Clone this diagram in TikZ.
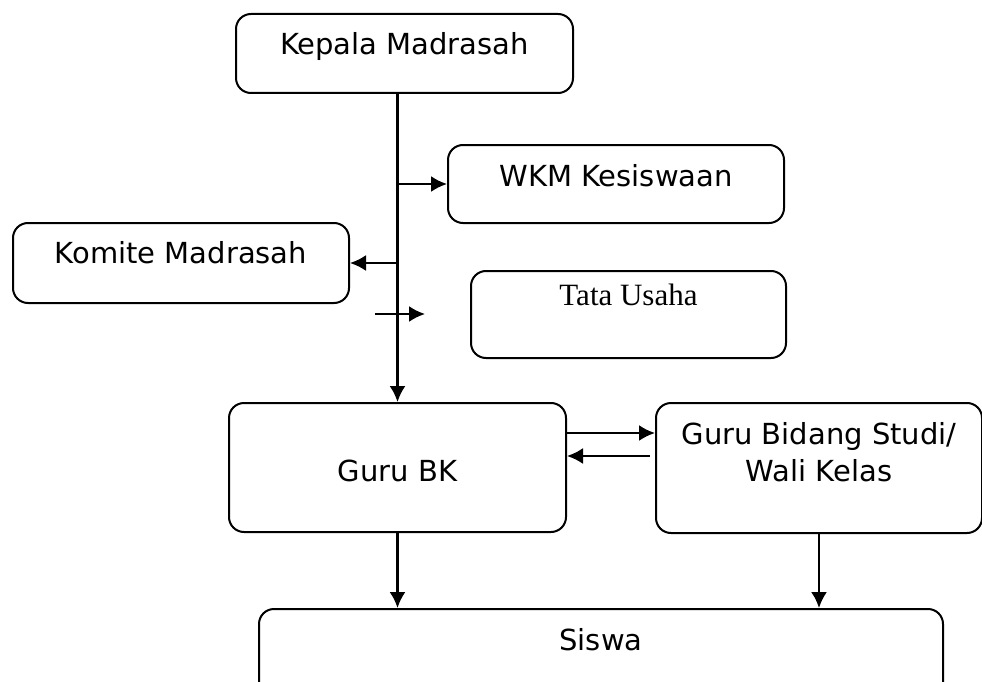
\documentclass[tikz,border=0pt]{standalone}
\usepackage{fontspec}
\setmainfont{DejaVu Sans}
\newfontfamily\tatafont{Liberation Serif}
\usepackage{tikz}
\usetikzlibrary{arrows.meta}
\usetikzlibrary{positioning}

\begin{document}
\begin{tikzpicture} [
            x = 1pt, y = -1pt,
            % ----- Node definitions ----- %
            orgnode/.style = {
                draw,
                rectangle,
                rounded corners = 15pt,
                line width = 2pt,
                inner sep = 0pt,
                anchor = north west,
                align = center,
                font = \fontsize{29}{37}\selectfont
            },
            orgarrow/.style = {
                line width = 2.2pt,
                -{Latex[length=16pt, width=16pt]}
            },
    ]
        \useasboundingbox (0,0) rectangle (982,682);
        \clip (0,0) rectangle (982,682);

            % ----- Node constructions ----- %
        \node [orgnode, minimum width=337pt, text height=41pt, text depth=38pt]
            (kepala) at (235,13) {Kepala Madrasah};
        \node [orgnode, minimum width=336pt, text height=41pt, text depth=37pt]
            (wkm) at (447,144) {WKM Kesiswaan};
        \node [orgnode, minimum width=336pt, text height=40pt, text depth=40pt]
            (komite) at (12,222) {Komite Madrasah};
        \node [orgnode, minimum width=315pt, text height=34pt, text depth=53pt,
               font=\tatafont\fontsize{31}{37}\selectfont]
            (tatausaha) at (470,270) {Tata Usaha};
        \node [orgnode, minimum width=337pt, text height=78pt, text depth=51pt]
            (gurubk) at (228,402) {Guru BK};
        \node [orgnode, minimum width=326pt, text height=78pt, text depth=52pt]
            (gurubidang) at (655,402) {Guru Bidang Studi/\\Wali Kelas};
        \node [orgnode, minimum width=684pt, text height=41pt, text depth=51pt]
            (siswa) at (258,608) {Siswa};

        \coordinate (lepas awal) at (375,314);
        \coordinate (lepas akhir) at (425,314);

            % ----- Connections ----- %
        \draw [orgarrow] (kepala.south -| gurubk.north) -- (gurubk.north);
        \draw [orgarrow] (wkm.west -| gurubk.north) -- (wkm.west);
        \draw [orgarrow] (komite.east -| gurubk.north) -- (komite.east);
        \draw [orgarrow] (lepas awal) -- (lepas akhir);
        \draw [orgarrow] ([yshift=-31pt]gurubk.north east) -- ([yshift=-31pt]gurubidang.north west);
        \draw [orgarrow] ([yshift=-54pt, xshift=-5pt]gurubidang.north west) -- ([yshift=-54pt]gurubk.north east);
        \draw [orgarrow] (gurubk.south) -- (siswa.north -| gurubk.south);
        \draw [orgarrow] (gurubidang.south) -- (siswa.north -| gurubidang.south);

\end{tikzpicture}
\end{document}
